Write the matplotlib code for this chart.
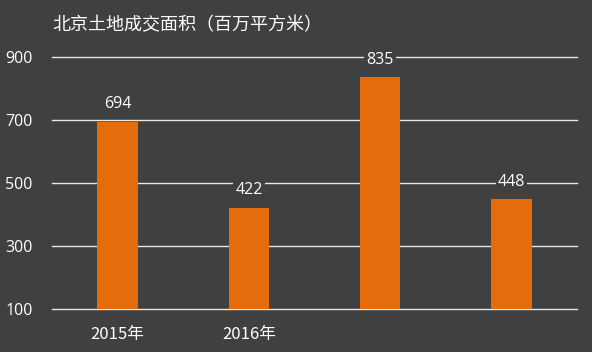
import matplotlib
matplotlib.use('Agg')
import matplotlib.pyplot as plt

plt.rcParams['font.family'] = ['Open Sans', 'Noto Sans CJK SC', 'DejaVu Sans']

# data
categories = ['2015年', '2016年', '', '']
values = [694, 422, 835, 448]
yticks = [100, 300, 500, 700, 900]
title = '北京土地成交面积（百万平方米）'

bg = '#404040'
bar_color = '#E46C0A'

fig = plt.figure(figsize=(5.92, 3.52), dpi=100, facecolor=bg)
ax = fig.add_axes([52 / 592, 43 / 352, 525 / 592, 252 / 352], facecolor=bg)

x = range(len(categories))
bars = ax.bar(x, values, width=0.31, color=bar_color, zorder=3)
labels = ax.bar_label(bars, labels=[str(v) for v in values], padding=7,
                      color='white', fontsize=11.5)
for t in labels:
    t.set_bbox(dict(facecolor=bg, edgecolor='none', pad=1.5))
    t.set_zorder(4)

ax.set_ylim(100, 900)
ax.set_xlim(-0.5, len(categories) - 0.5)
ax.set_yticks(yticks)
ax.set_xticks(list(x))
ax.set_xticklabels(categories)
ax.yaxis.grid(True, color='#e8e8e8', linewidth=1.0, zorder=0)
for gl in ax.get_ygridlines():
    gl.set_clip_on(False)
ax.tick_params(axis='both', length=0, colors='white', labelsize=11.5)
ax.tick_params(axis='y', pad=14)
ax.tick_params(axis='x', pad=12, labelsize=12)
for lbl in ax.get_xticklabels():
    lbl.set_fontfamily(['Noto Sans CJK SC', 'DejaVu Sans'])
for s in ax.spines.values():
    s.set_visible(False)

fig.text(52 / 592, 1 - 25 / 352, title, color='white', fontsize=13,
         va='center', ha='left', family=['Noto Sans CJK SC', 'DejaVu Sans'])

fig.savefig('out.png', dpi=100, facecolor=bg)
